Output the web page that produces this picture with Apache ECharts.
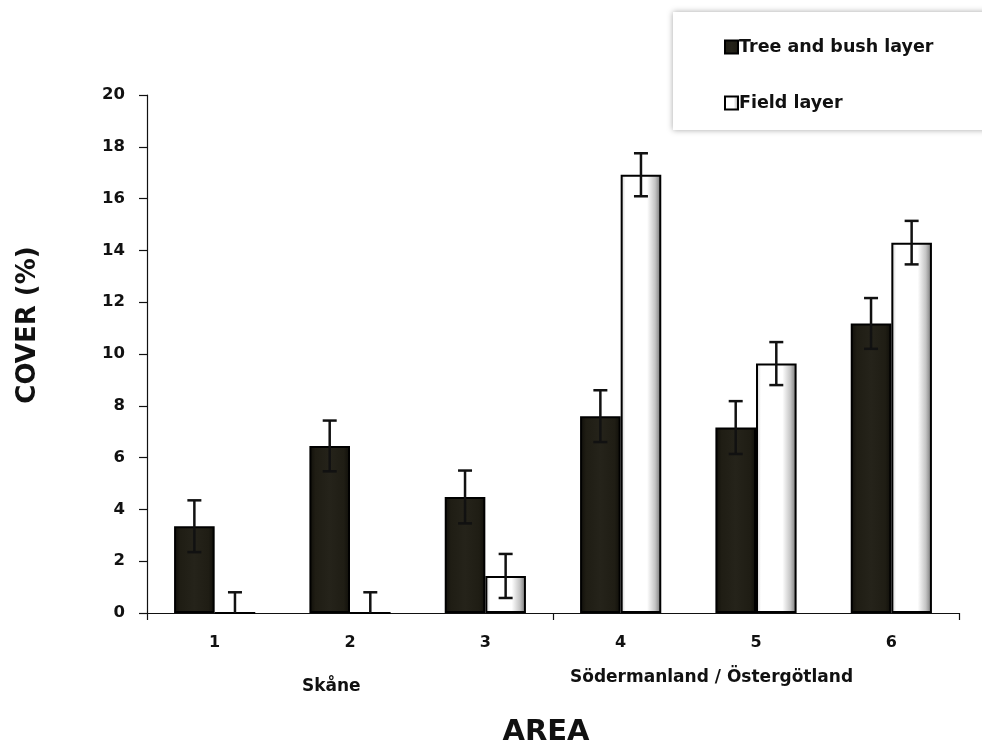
<!DOCTYPE html>
<html>
<head>
<meta charset="utf-8">
<script src="https://cdn.jsdelivr.net/npm/echarts@6/dist/echarts.min.js"></script>
<style>
html,body{margin:0;padding:0;background:#fff;overflow:hidden;}
#chart{width:982px;height:747px;}
</style>
</head>
<body>
<div id="chart"></div>
<script>
const categories = ['1', '2', '3', '4', '5', '6'];
const treeValues = [3.35, 6.45, 4.48, 7.6, 7.16, 11.18];
const treeErrors = [1.0, 0.98, 1.02, 1.0, 1.02, 0.98];
const fieldValues = [0, 0, 1.43, 16.92, 9.63, 14.3];
const fieldErrors = [0.8, 0.8, 0.85, 0.83, 0.83, 0.84];
const yTicks = [0, 2, 4, 6, 8, 10, 12, 14, 16, 18, 20];
const seriesNames = ['Tree and bush layer', 'Field layer'];
const groupLabels = ['Skåne', 'Södermanland / Östergötland'];
const axisTitles = ['AREA', 'COVER (%)'];

const FONT = '"DejaVu Sans", sans-serif';
const GAP_RATIO = 0.4;

function errRender(sign) {
  return function (params, api) {
    const xi = api.value(0);
    const v = api.value(1);
    const e = api.value(2);
    const band = api.size([1, 0])[0];
    const barW = band * (1 - GAP_RATIO) / 2;
    const off = sign * barW / 2;
    const lowVal = Math.max(0, v - e);
    const hi = api.coord([xi, v + e]);
    const lo = api.coord([xi, lowVal]);
    const x = hi[0] + off;
    const cap = 7;
    const st = { stroke: '#111', lineWidth: 2.5 };
    const children = [
      { type: 'line', shape: { x1: x, y1: hi[1], x2: x, y2: lo[1] }, style: st },
      { type: 'line', shape: { x1: x - cap, y1: hi[1], x2: x + cap, y2: hi[1] }, style: st }
    ];
    if (v - e > 0) {
      children.push({ type: 'line', shape: { x1: x - cap, y1: lo[1], x2: x + cap, y2: lo[1] }, style: st });
    }
    return { type: 'group', children: children };
  };
}

const darkFill = new echarts.graphic.LinearGradient(0, 0, 1, 0, [
  { offset: 0, color: '#0f0e09' },
  { offset: 0.15, color: '#1f1d14' },
  { offset: 0.5, color: '#25231a' },
  { offset: 0.85, color: '#1f1d14' },
  { offset: 1, color: '#0f0e09' }
]);
const lightFill = new echarts.graphic.LinearGradient(0, 0, 1, 0, [
  { offset: 0, color: '#c8c8c8' },
  { offset: 0.12, color: '#ffffff' },
  { offset: 0.65, color: '#ffffff' },
  { offset: 0.85, color: '#c4c4c4' },
  { offset: 1, color: '#6e6e6e' }
]);

const chart = echarts.init(document.getElementById('chart'), null, { renderer: 'canvas', width: 982, height: 747 });
chart.setOption({
  backgroundColor: '#fff',
  animation: false,
  textStyle: { fontFamily: FONT },
  grid: { left: 147, right: 23, top: 95, bottom: 134, containLabel: false },
  graphic: [
    {
      type: 'rect', left: 673, top: 12, z: -1,
      shape: { width: 330, height: 118 },
      style: { fill: '#fff', shadowBlur: 6, shadowColor: 'rgba(0,0,0,0.35)', shadowOffsetY: 0 }
    },
    {
      type: 'text', left: 302, top: 678,
      style: { text: groupLabels[0], font: 'bold 17px ' + FONT, fill: '#111' }
    },
    {
      type: 'text', left: 570, top: 669,
      style: { text: groupLabels[1], font: 'bold 17px ' + FONT, fill: '#111' }
    },
    {
      type: 'text', x: 546, y: 732,
      style: { text: axisTitles[0], font: 'bold 29px ' + FONT, fill: '#111', textAlign: 'center', textVerticalAlign: 'middle' }
    },
    {
      type: 'text', x: 28, y: 325, rotation: Math.PI / 2,
      style: { text: axisTitles[1], font: 'bold 26px ' + FONT, fill: '#111', textAlign: 'center', textVerticalAlign: 'middle' }
    }
  ],
  legend: {
    orient: 'vertical',
    left: 719, top: 33,
    itemWidth: 13, itemHeight: 13,
    itemGap: 38,
    icon: 'rect',
    textStyle: { fontFamily: FONT, fontWeight: 'bold', fontSize: 17.5, color: '#111', padding: [0, 0, 0, -4] },
    data: seriesNames
  },
  xAxis: {
    type: 'category',
    data: categories,
    axisLine: { lineStyle: { color: '#111', width: 1.2 } },
    axisTick: { show: true, interval: 2, length: 7, lineStyle: { color: '#111', width: 1.2 } },
    axisLabel: { fontFamily: FONT, fontWeight: 'bold', fontSize: 16, color: '#111', margin: 22 },
    splitLine: { show: false }
  },
  yAxis: {
    type: 'value',
    min: yTicks[0],
    max: yTicks[yTicks.length - 1],
    interval: yTicks[1] - yTicks[0],
    axisLine: { show: true, lineStyle: { color: '#111', width: 1.2 } },
    axisTick: { show: true, length: 8, lineStyle: { color: '#111', width: 1.2 } },
    axisLabel: { fontFamily: FONT, fontWeight: 'bold', fontSize: 16.5, color: '#111', margin: 22 },
    splitLine: { show: false }
  },
  series: [
    {
      name: seriesNames[0],
      type: 'bar',
      data: treeValues,
      barGap: '0%',
      barCategoryGap: (GAP_RATIO * 100) + '%',
      itemStyle: { color: darkFill, borderColor: '#000', borderWidth: 2 }
    },
    {
      name: seriesNames[1],
      type: 'bar',
      data: fieldValues,
      barGap: '0%',
      barCategoryGap: (GAP_RATIO * 100) + '%',
      itemStyle: { color: lightFill, borderColor: '#000', borderWidth: 2 }
    },
    {
      type: 'custom',
      name: 'treeErr',
      renderItem: errRender(-1),
      data: treeValues.map((v, i) => [i, v, treeErrors[i]]),
      encode: { x: 0, y: 1 },
      z: 10,
      silent: true
    },
    {
      type: 'custom',
      name: 'fieldErr',
      renderItem: errRender(1),
      data: fieldValues.map((v, i) => [i, v, fieldErrors[i]]),
      encode: { x: 0, y: 1 },
      z: 10,
      silent: true
    }
  ]
});
</script>
</body>
</html>
